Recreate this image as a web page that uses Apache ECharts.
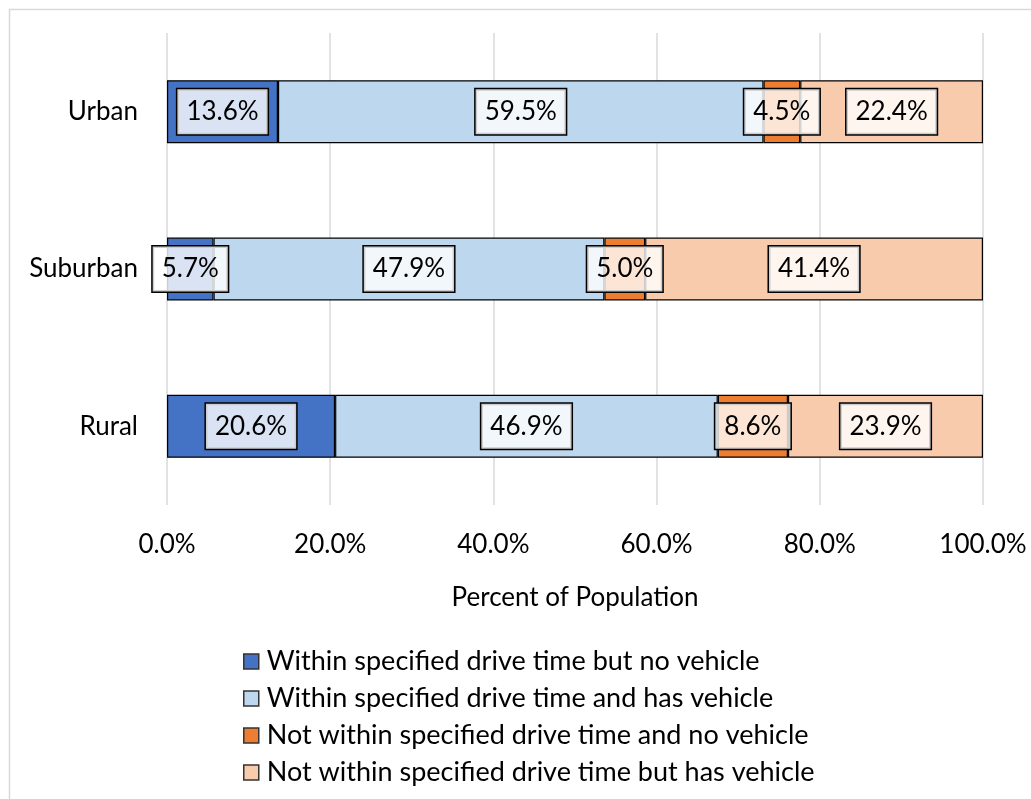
<!DOCTYPE html>
<html><head><meta charset="utf-8">
<script src="https://cdn.jsdelivr.net/npm/echarts@6/dist/echarts.min.js"></script>
<style>html,body{margin:0;padding:0;background:#fff}#c{width:1031px;height:799px}</style>
</head><body><div id="c"></div>
<script>
const categories = ['Urban', 'Suburban', 'Rural'];
const seriesNames = [
  'Within specified drive time but no vehicle',
  'Within specified drive time and has vehicle',
  'Not within specified drive time and no vehicle',
  'Not within specified drive time but has vehicle'
];
const withinNoVehicle = [13.6, 5.7, 20.6];
const withinHasVehicle = [59.5, 47.9, 46.9];
const notWithinNoVehicle = [4.5, 5.0, 8.6];
const notWithinHasVehicle = [22.4, 41.4, 23.9];
const xTicks = [0, 20, 40, 60, 80, 100];

const colors = ['#4472C4', '#BDD7EE', '#ED7D31', '#F8CBAD'];
const FONT = 'Lato';
const FS = 26;
const allData = [withinNoVehicle, withinHasVehicle, notWithinNoVehicle, notWithinHasVehicle];

const chart = echarts.init(document.getElementById('c'), null, {renderer: 'canvas'});
chart.setOption({
  animation: false,
  textStyle: {fontFamily: FONT},
  graphic: [{
    type: 'rect', left: 7, top: 7, z: -10,
    shape: {x: 0, y: 0, width: 1040, height: 810},
    style: {fill: 'none', stroke: '#d9d9d9', lineWidth: 1.5}
  }],
  grid: {left: 167, right: 48, top: 33, bottom: 294, containLabel: false},
  xAxis: {
    type: 'value', min: 0, max: 100, interval: 20,
    axisLine: {show: false}, axisTick: {show: false},
    splitLine: {show: true, lineStyle: {color: '#d9d9d9', width: 1.5}},
    axisLabel: {margin: 27, fontSize: FS, color: '#000', fontFamily: FONT,
      formatter: v => xTicks.includes(v) ? v.toFixed(1) + '%' : ''},
    name: 'Percent of Population', nameLocation: 'middle', nameGap: 80,
    nameTextStyle: {fontSize: FS, color: '#000', fontFamily: FONT, verticalAlign: 'top'}
  },
  yAxis: {
    type: 'category', data: categories, inverse: true,
    axisLine: {show: false}, axisTick: {show: false},
    axisLabel: {margin: 29, fontSize: FS, color: '#000', fontFamily: FONT}
  },
  legend: {
    orient: 'vertical', left: 238, top: 643, itemGap: 10,
    itemWidth: 15, itemHeight: 15, icon: 'rect',
    textStyle: {fontSize: 27, color: '#000', fontFamily: FONT, padding: [0, 0, 0, 3]},
    data: seriesNames.map((n, i) => ({name: n, itemStyle: {borderColor: '#333', borderWidth: 1.5}}))
  },
  series: seriesNames.map((n, i) => ({
    name: n, type: 'bar', stack: 'total', barWidth: '40%',
    data: allData[i],
    itemStyle: {color: colors[i], borderColor: '#000', borderWidth: 1.2},
    label: {
      show: true, position: 'inside', fontSize: FS, color: '#000', fontFamily: FONT,
      formatter: p => p.value.toFixed(1) + '%',
      backgroundColor: 'rgba(255,255,255,0.8)', borderColor: '#000', borderWidth: 1.5,
      lineHeight: 27, padding: [10, 9, 8, 9]
    }
  }))
});
</script></body></html>
